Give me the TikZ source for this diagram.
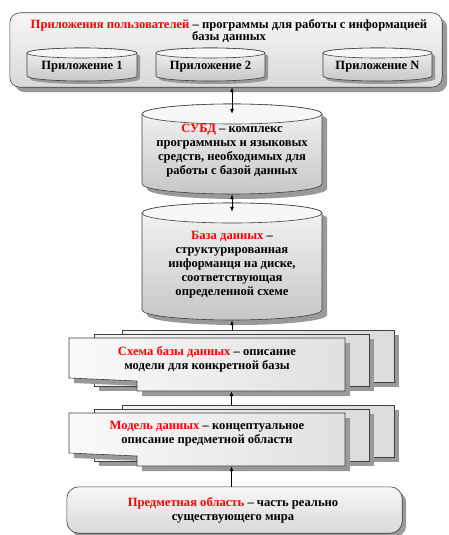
\documentclass[tikz,border=0pt]{standalone}
\usepackage{fontspec}
\setmainfont{Liberation Serif}
\usetikzlibrary{arrows.meta}
\definecolor{shd}{gray}{0.6}
\tikzset{
  txt/.style={font=\bfseries\fontsize{12.6}{14}\selectfont, align=center, inner sep=0pt},
  ttl/.style={font=\bfseries\fontsize{12.6}{12.5}\selectfont, align=center, inner sep=0pt},
  ghost/.style={inner sep=0pt, draw=none},
  outl/.style={draw=black!75, line width=0.6pt},
  arr/.style={-{Latex[length=5pt,width=4pt]}, line width=0.8pt},
  darr/.style={{Latex[length=5pt,width=4pt]}-{Latex[length=5pt,width=4pt]}, line width=0.8pt},
}
% cx, top, bottom, halfwidth, ry, shadow offset
\newcommand\mycyl[6]{%
  \fill[shd] ({#1-#4+#6},{-(#2+#5)-#6}) arc[start angle=180,end angle=0,x radius=#4,y radius=#5]
     -- ({#1+#4+#6},{-(#3-#5)-#6}) arc[start angle=0,end angle=-180,x radius=#4,y radius=#5] -- cycle;
  \shade[top color=black!4, bottom color=black!22, outl] ({#1-#4},{-(#2+#5)}) arc[start angle=180,end angle=0,x radius=#4,y radius=#5]
     -- ({#1+#4},{-(#3-#5)}) arc[start angle=0,end angle=-180,x radius=#4,y radius=#5] -- cycle;
  \filldraw[fill=black!3, outl] (#1,{-(#2+#5)}) ellipse[x radius=#4, y radius=#5];
}
% x1 y1 x2 y2
\newcommand\mydoc[4]{%
  \fill[shd] ({#1+5},{-#2-5}) rectangle ({#3+5},{-#4-5});
  \shade[left color=black!4, right color=black!14, outl] (#1,-#2) rectangle (#3,-#4);
}
\newcommand\myfront[4]{%
  \fill[shd] ({#1+5},{-#2-5}) -- ({#3+5},{-#2-5}) -- ({#3+5},{-#4-5}) -- ({#1+73},{-#4-5}) -- ({#1+73},{-(#4-10)-5}) -- ({#1+5},{-(#4-13)-5}) -- cycle;
  \shade[left color=black!2, right color=black!12, outl] (#1,-#2) -- (#3,-#2) -- (#3,-#4) -- ({#1+68},-#4) -- ({#1+68},{-(#4-10)}) -- (#1,{-(#4-13)}) -- cycle;
}
\begin{document}
\begin{tikzpicture}[x=1pt,y=1pt]
\useasboundingbox (0,0) rectangle (448,-535);

% ---- users box
\node[ghost, minimum width=432, minimum height=74] (users) at (226,-50) {};
\fill[shd, rounded corners=10] ([xshift=5pt,yshift=-5pt]users.north west) rectangle ([xshift=5pt,yshift=-5pt]users.south east);
\shade[top color=black!3, bottom color=black!15, outl, rounded corners=10] (users.north west) rectangle (users.south east);
\node[ttl] (utitle) at (229,-31) {{\color{red}Приложения пользователей} – программы для работы с информацией\\базы данных};

\mycyl{82}{48}{81}{55}{5}{3}
\mycyl{210.5}{48}{81}{54.5}{5}{3}
\mycyl{377.5}{48}{81}{54.5}{5}{3}
\node[txt] (app1) at (82,-67) {Приложение 1};
\node[txt] (app2) at (210.5,-67) {Приложение 2};
\node[txt] (appN) at (377.5,-67) {Приложение N};

% ---- SUBD
\mycyl{232}{104}{194}{90}{10}{5}
\node[ghost, minimum width=180, minimum height=90] (subd) at (232,-149) {};
\node[txt] (subdText) at (232,-151) {{\color{red}СУБД} – комплекс\\программных и языковых\\средств, необходимых для\\работы с базой данных};

% ---- DB
\mycyl{232}{203}{320}{90}{10}{5}
\node[ghost, minimum width=180, minimum height=117] (db) at (232,-261.5) {};
\node[txt] (dbText) at (232,-265) {{\color{red}База данных} –\\структурированная\\информанця на диске,\\соответствующая\\определенной схеме};

% ---- schema
\mydoc{122}{330}{394}{382}
\mydoc{94}{334}{369}{386}
\myfront{69}{338}{345}{391}
\node[ghost, minimum width=325, minimum height=61] (schema) at (231.5,-360.5) {};
\node[txt] (schemaText) at (207,-359) {{\color{red}Схема базы данных} – описание\\модели для конкретной базы};

% ---- model
\mydoc{122}{405}{394}{457}
\mydoc{94}{409}{369}{461}
\myfront{69}{413}{345}{466}
\node[ghost, minimum width=325, minimum height=61] (model) at (231.5,-435.5) {};
\node[txt] (modelText) at (207,-434) {{\color{red}Модель данных} – концептуальное\\описание предметной области};

% ---- subject area
\node[ghost, minimum width=335, minimum height=46] (predmet) at (234.5,-510) {};
\fill[shd, rounded corners=12] ([xshift=4pt,yshift=-4pt]predmet.north west) rectangle ([xshift=4pt,yshift=-4pt]predmet.south east);
\shade[top color=black!3, bottom color=black!15, outl, rounded corners=12] (predmet.north west) rectangle (predmet.south east);
\node[txt] (predmetText) at (233,-510) {{\color{red}Предметная область} – часть реально\\существующего мира};

% ---- connectors
\draw[darr] (users.south -| subd.north) -- ([yshift=-10pt]subd.north);
\draw[darr] (subd.south) -- ([yshift=-9pt]db.north);
\draw[arr] (schema.north -| db.south) -- (db.south);
\draw[arr] (model.north) -- (schema.south);
\draw[arr] (predmet.north -| model.south) -- (model.south);
\end{tikzpicture}
\end{document}
